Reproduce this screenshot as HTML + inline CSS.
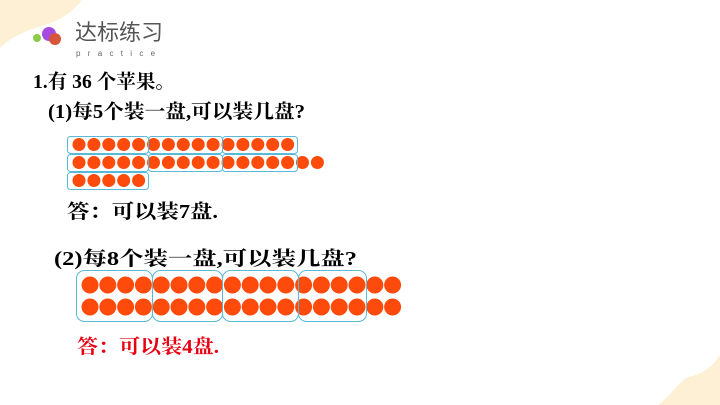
<!DOCTYPE html>
<html><head><meta charset="utf-8"><style>
html,body{margin:0;padding:0;background:#fff;}
svg{display:block;}
.t{font-family:"Liberation Serif","Noto Serif CJK SC",serif;font-weight:bold;font-size:19.5px;fill:#000;}
</style></head><body>
<svg id="s" width="720" height="405" viewBox="0 0 720 405" xmlns="http://www.w3.org/2000/svg">
<path d="M0,0 L82,0 C72,12 62,20 45,25 C28,30 12,36 0,48 Z" fill="#fdf0d4"/>
<path d="M720,355 L720,405 L658,405 C672,395 678,382 688,377 C702,374 712,368 720,355 Z" fill="#fdf0d4"/>
<circle cx="49" cy="34" r="7" fill="#a64be0"/>
<circle cx="55" cy="39" r="6" fill="#d5573b"/>
<circle cx="37" cy="38" r="4" fill="#8ccc4a"/>
<text x="75" y="40" font-family="'Liberation Sans','Noto Sans CJK SC',sans-serif" font-size="22" fill="#555">达标练习</text>
<text x="76" y="56" font-family="'Liberation Sans',sans-serif" font-size="8" fill="#666" letter-spacing="7.3">practice</text>
<text class="t" x="33" y="88" textLength="142" lengthAdjust="spacingAndGlyphs">1.有 36 个苹果。</text>
<text class="t" x="48" y="118" textLength="257" lengthAdjust="spacingAndGlyphs">(1)每5个装一盘,可以装几盘?</text>
<text class="t" x="67" y="218" textLength="151" lengthAdjust="spacingAndGlyphs">答：可以装7盘.</text>
<text class="t" x="54" y="265" textLength="303" lengthAdjust="spacingAndGlyphs">(2)每8个装一盘,可以装几盘?</text>
<text class="t" x="77" y="353" textLength="142" lengthAdjust="spacingAndGlyphs" style="fill:#e60012">答：可以装4盘.</text>
<g id="g" fill="#fe4a0a"></g>
<g fill="none" stroke="#5ab8d8" stroke-width="1">
<rect x="67.5" y="136.5" width="81" height="17" rx="3"/>
<rect x="148.5" y="136.5" width="74" height="17" rx="3"/>
<rect x="222.5" y="136.5" width="75" height="17" rx="3"/>
<rect x="67.5" y="154.5" width="81" height="17" rx="3"/>
<rect x="148.5" y="154.5" width="74" height="17" rx="3"/>
<rect x="222.5" y="154.5" width="75" height="17" rx="3"/>
<rect x="67.5" y="172.5" width="81" height="17" rx="3"/>
<rect x="76.5" y="270.5" width="76" height="51" rx="8"/>
<rect x="152.5" y="270.5" width="70" height="51" rx="8"/>
<rect x="222.5" y="270.5" width="76" height="51" rx="8"/>
<rect x="298.5" y="270.5" width="68" height="51" rx="8"/>
</g>
</svg>
<script>
var g=document.getElementById('g'),h='';
function c(x,y,r){h+='<circle cx="'+x.toFixed(1)+'" cy="'+y+'" r="'+r+'"/>';}
for(var i=0;i<15;i++)c(79+i*14.9,144.5,6.5);
for(var i=0;i<17;i++)c(79+i*14.9,162.5,6.5);
for(var i=0;i<5;i++)c(79+i*14.9,180.5,6.5);
for(var r=0;r<2;r++)for(var i=0;i<18;i++)c(90+i*17.8,285+r*22,8.5);
g.innerHTML=h;
</script>
</body></html>
